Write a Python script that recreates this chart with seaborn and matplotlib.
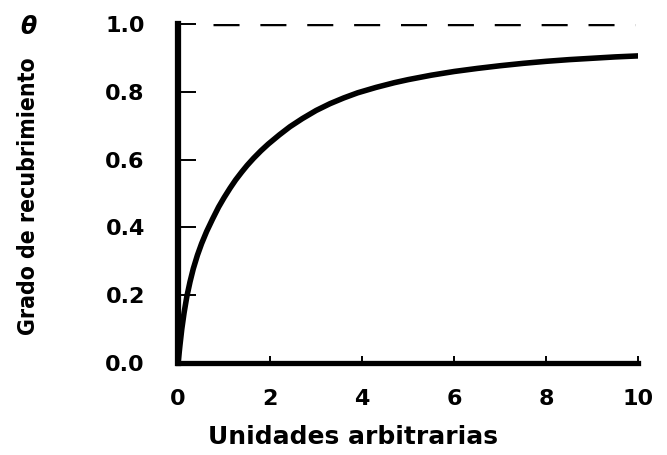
import matplotlib
matplotlib.use("Agg")
import matplotlib.pyplot as plt
import seaborn as sns
import pandas as pd

# Fractional surface coverage (theta) against arbitrary units
units = [0, 0.04, 0.08, 0.13, 0.19, 0.26, 0.33, 0.42, 0.51, 0.62, 0.75, 0.88,
         1.0, 1.13, 1.25, 1.38, 1.5, 1.64, 1.8, 1.96, 2.2, 2.43, 2.7, 3.0,
         3.3, 3.6, 3.9, 4.3, 4.7, 5.0, 5.5, 6.0, 6.5, 7.0, 7.5, 8.0, 8.5,
         9.0, 9.5, 10.0]
coverage = [0, 0.052, 0.10, 0.148, 0.196, 0.240, 0.278, 0.318, 0.352, 0.388,
            0.425, 0.46, 0.488, 0.516, 0.540, 0.563, 0.583, 0.604, 0.626,
            0.646, 0.673, 0.697, 0.721, 0.745, 0.765, 0.782, 0.797, 0.813,
            0.827, 0.836, 0.849, 0.860, 0.869, 0.877, 0.884, 0.890, 0.895,
            0.899, 0.903, 0.906]
saturation = 1.0
x_ticks = [0, 2, 4, 6, 8, 10]
y_ticks = [0.0, 0.2, 0.4, 0.6, 0.8, 1.0]

df = pd.DataFrame({"u": units, "theta": coverage})

sns.set_theme(style="ticks")
plt.rcParams["font.family"] = ["DejaVu Sans"]
plt.rcParams["text.color"] = "black"

fig = plt.figure(figsize=(6.67, 4.55), dpi=100)
ax = fig.add_axes([0.267, 0.2022, 0.69, 0.745])

sns.lineplot(data=df, x="u", y="theta", ax=ax, color="black", lw=4.0,
             solid_capstyle="round", solid_joinstyle="round")
ax.axhline(saturation, xmin=0.076, xmax=0.992, color="black", lw=2.5,
           dashes=(7.5, 6))

ax.set_xlim(0, 10)
ax.set_ylim(0, 1.0)
ax.set_xticks(x_ticks)
ax.set_yticks(y_ticks)
ax.set_xticklabels([str(v) for v in x_ticks])
ax.set_yticklabels([f"{v:.1f}" for v in y_ticks])

for side in ("top", "right"):
    ax.spines[side].set_visible(False)
for side, lw in (("left", 4.5), ("bottom", 3.8)):
    ax.spines[side].set_linewidth(lw)
    ax.spines[side].set_color("black")
    ax.spines[side].set_capstyle("projecting")

ax.tick_params(axis="y", direction="in", length=13, width=1.4, pad=24,
               labelsize=16, colors="black")
ax.tick_params(axis="x", direction="in", length=5, width=1.4, pad=19,
               labelsize=16, colors="black")
for lab in ax.get_xticklabels() + ax.get_yticklabels():
    lab.set_fontweight("bold")

ax.set_xlabel("")
ax.set_ylabel("")

fig.text(353 / 667, 1 - 437 / 455, "Unidades arbitrarias", ha="center",
         va="center", fontsize=18, fontweight="bold", color="black")
fig.text(29 / 667, 1 - 196 / 455, "Grado de recubrimiento", ha="center",
         va="center", rotation=90, fontsize=16.5, fontweight="bold",
         fontstretch="condensed", color="black")
fig.text(28 / 667, 1 - 27 / 455, "θ", ha="center", va="center",
         fontsize=17, fontweight="bold", style="italic", color="black")

fig.savefig("out.png", dpi=100, facecolor="white")
